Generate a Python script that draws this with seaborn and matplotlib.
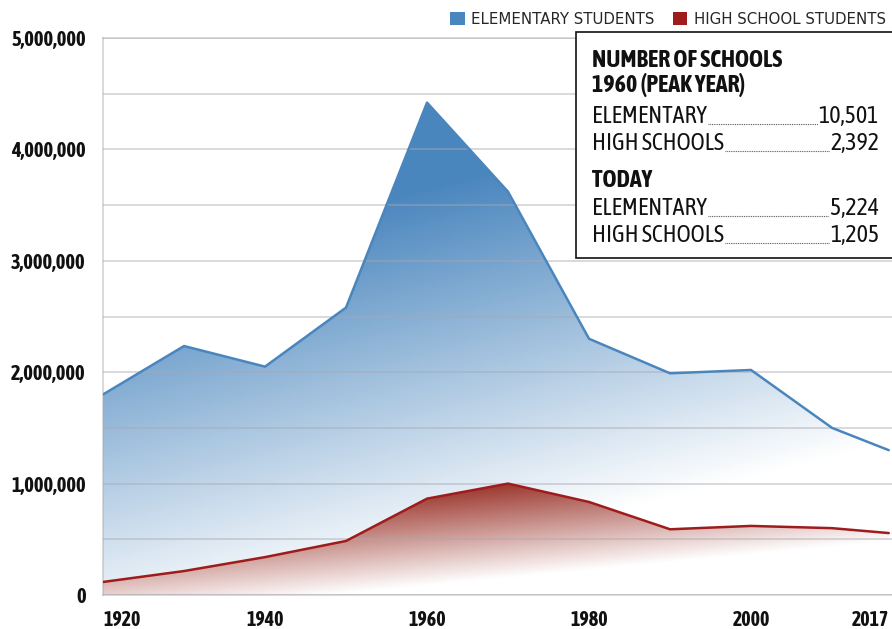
import numpy as np
import pandas as pd
import seaborn as sns
import matplotlib.pyplot as plt
from matplotlib import font_manager
from matplotlib.colors import LinearSegmentedColormap
from matplotlib.patches import Patch, Polygon, Rectangle
from matplotlib.lines import Line2D
from matplotlib.ticker import FuncFormatter, MultipleLocator

years = [1920, 1930, 1940, 1950, 1960, 1970, 1980, 1990, 2000, 2010, 2017]
elementary = [1800000, 2235000, 2050000, 2580000, 4420000, 3620000,
              2300000, 1990000, 2020000, 1500000, 1300000]
high_school = [117000, 215000, 340000, 485000, 865000, 1000000,
               835000, 590000, 620000, 600000, 556000]

series = ["ELEMENTARY STUDENTS", "HIGH SCHOOL STUDENTS"]
x_ticks = [1920, 1940, 1960, 1980, 2000, 2017]
y_ticks = [0, 1000000, 2000000, 3000000, 4000000, 5000000]

peak_title = ["NUMBER OF SCHOOLS", "1960 (PEAK YEAR)"]
peak_rows = [("ELEMENTARY", "10,501"), ("HIGH SCHOOLS", "2,392")]
today_title = "TODAY"
today_rows = [("ELEMENTARY", "5,224"), ("HIGH SCHOOLS", "1,205")]

blue = "#4a86be"
red = "#9e1c1c"
grid_col = "#a8a8b0"

# look for an upright condensed face with both regular and bold weights
narrow = ("condensed", "semi-condensed", "extra-condensed", "ultra-condensed")
weights = {}
for f in font_manager.fontManager.ttflist:
    is_narrow = str(f.stretch) in narrow or "Narrow" in f.name or "Condensed" in f.name
    if not is_narrow or f.style != "normal":
        continue
    w = f.weight if isinstance(f.weight, int) else font_manager.weight_dict.get(f.weight, 400)
    weights.setdefault(f.name, set()).add(w)
good = sorted(n for n, ws in weights.items()
              if max(ws) >= 700 and min(ws) <= 500)
if good:
    cond, stretch, scale = good[0], "condensed", 1.0
elif weights:
    cond, stretch, scale = sorted(weights)[0], "condensed", 1.0
else:
    cond, stretch, scale = "DejaVu Sans", "normal", 0.8

sns.set_theme(style="white")
plt.rcParams["font.family"] = [cond, "DejaVu Sans"]
plt.rcParams["font.stretch"] = stretch
plt.rcParams["font.style"] = "normal"

df = pd.DataFrame({
    "year": years * 2,
    "students": elementary + high_school,
    "level": [series[0]] * len(years) + [series[1]] * len(years),
})

W, H = 892, 629
fig = plt.figure(figsize=(W / 100, H / 100), dpi=100)
ax = fig.add_axes([103 / W, 34 / H, 1 - 103 / W, 557 / H])

x0, x1 = 1920, 2017.4
y0, y1 = 0, 5000000

# gradient fills clipped to the areas under each line
U, V = np.meshgrid(np.linspace(0, 1, 400), np.linspace(0, 1, 400))
blue_a = np.clip(0.12 + 1.5 * V - 0.53 * U, 0, 1)
red_a = np.clip(0.22 + 1.1 * (5 * V) - 0.75 * U, 0, 1)

for vals, alpha, col in [(elementary, blue_a, blue), (high_school, red_a, "#952a20")]:
    cmap = LinearSegmentedColormap.from_list("g", ["#ffffff", col])
    verts = np.column_stack([years + years[::-1], vals + [0] * len(vals)])
    poly = Polygon(verts, closed=True, facecolor="none", edgecolor="none",
                   transform=ax.transData)
    ax.add_patch(poly)
    im = ax.imshow(alpha, cmap=cmap, vmin=0, vmax=1, origin="lower",
                   extent=(x0, x1, y0, y1), aspect="auto", zorder=1,
                   interpolation="bilinear")
    im.set_clip_path(poly)

sns.lineplot(data=df, x="year", y="students", hue="level",
             palette=[blue, red], linewidth=1.8, legend=False, ax=ax, zorder=4)

ax.set_xlim(x0, x1)
ax.set_ylim(y0, y1)
ax.set_xlabel("")
ax.set_ylabel("")

# grid on top of the fills
ax.set_axisbelow(False)
ax.set_yticks(y_ticks)
ax.yaxis.set_minor_locator(MultipleLocator(500000))
ax.yaxis.set_major_formatter(FuncFormatter(lambda v, p: f"{int(v):,}"))
ax.set_xticks(x_ticks)
ax.set_xticks([1940, 1960, 1980, 2000], minor=True)
ax.grid(axis="y", which="both", color=grid_col, alpha=0.55, linewidth=1.1, zorder=2)
ax.grid(axis="x", which="minor", color=grid_col, alpha=0.55, linewidth=1.1, zorder=2)
ax.grid(axis="x", which="major", visible=False)

ax.spines["right"].set_visible(False)
for s in ["left", "bottom", "top"]:
    ax.spines[s].set_color(grid_col)
    ax.spines[s].set_alpha(0.55)
    ax.spines[s].set_linewidth(1.1)

ax.tick_params(axis="both", which="both", length=0)
ax.tick_params(axis="y", pad=12.5)
ax.tick_params(axis="x", pad=11)
for lab in ax.get_yticklabels():
    lab.set_fontsize(14.8 * scale)
for lab in ax.get_xticklabels():
    lab.set_fontsize(14.3 * scale)
for lab in ax.get_yticklabels() + ax.get_xticklabels():
    lab.set_fontweight("bold")
    lab.set_fontstretch(stretch)
    lab.set_fontstyle("normal")
    lab.set_color("#111111")
xl = ax.get_xticklabels()
xl[0].set_horizontalalignment("left")
xl[-1].set_horizontalalignment("right")

# legend above the plot
handles = [Patch(facecolor=blue, edgecolor="none"), Patch(facecolor=red, edgecolor="none")]
fig.legend(handles, series, loc="upper right", bbox_to_anchor=(1.003, 0.996),
           ncol=2, frameon=False, handlelength=0.95, handleheight=0.95,
           handletextpad=0.45, columnspacing=1.2, borderaxespad=0.2,
           prop={"family": "DejaVu Sans", "size": 10.8, "stretch": "normal"})

# table box
fig.patches.append(Rectangle((576 / W, 1 - 258 / H), 1 - 576 / W + 0.01, 226 / H,
                             transform=fig.transFigure, facecolor="white",
                             edgecolor="#111111", linewidth=1.2, zorder=5))

tx_l, tx_r = 592 / W, 879 / W


def fy(px):
    return 1 - px / H


fs = 17.2 * scale
kw = dict(fontsize=fs, va="baseline", zorder=6, color="#111111",
          fontstretch=stretch, fontstyle="normal")
fig.text(tx_l, fy(67), peak_title[0], fontweight="bold", **kw)
fig.text(tx_l, fy(92), peak_title[1], fontweight="bold", **kw)
fig.text(tx_l, fy(187), today_title, fontweight="bold", **kw)

rows = [(peak_rows[0], 123), (peak_rows[1], 150), (today_rows[0], 215), (today_rows[1], 242)]
pairs = []
for (label, num), ypx in rows:
    t1 = fig.text(tx_l, fy(ypx), label, **kw)
    t2 = fig.text(tx_r, fy(ypx), num, ha="right", **kw)
    pairs.append((t1, t2, ypx))

fig.canvas.draw()
r = fig.canvas.get_renderer()
for t1, t2, ypx in pairs:
    a = t1.get_window_extent(r).x1 / W
    b = t2.get_window_extent(r).x0 / W
    fig.add_artist(Line2D([a + 0.001, b - 0.001], [fy(ypx + 1), fy(ypx + 1)],
                          transform=fig.transFigure, color="#555555",
                          linewidth=0.8, linestyle=(0, (0.8, 0.8)), zorder=6))

fig.savefig("out.png", dpi=100)
